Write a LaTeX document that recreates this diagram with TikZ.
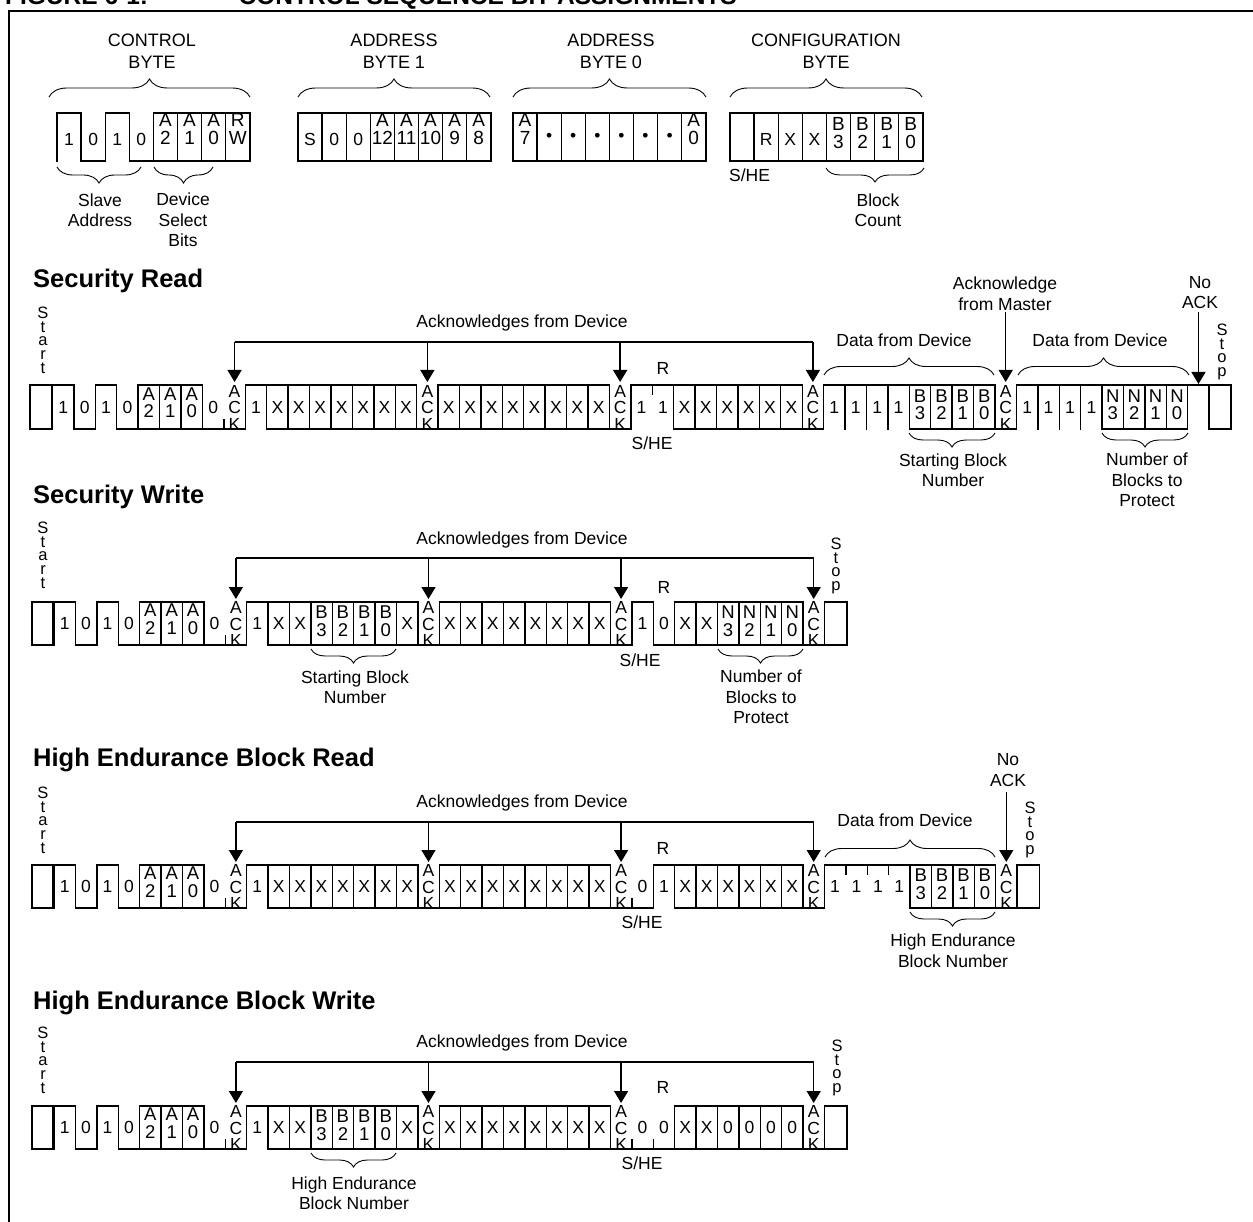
\documentclass[tikz,border=0pt]{standalone}
\usepackage{fontspec}
\setmainfont{Liberation Sans}
\usetikzlibrary{arrows.meta,decorations.pathreplacing}

\newcommand\bitlev[1]{\ifcase#1 0\or 1\or 2\or 1\fi}
\newcommand\bitstk[2]{{\fontsize{18.5}{16}\selectfont\begin{tabular}{@{}c@{}}#1\\#2\end{tabular}}}
\newcommand\topstk[2]{{\fontsize{19}{15}\selectfont\begin{tabular}{@{}c@{}}#1\\#2\end{tabular}}}
\newcommand\ACKs{{\fontsize{17.5}{14.5}\selectfont\begin{tabular}{@{}c@{}}A\\C\\K\end{tabular}}}

\newcommand\vfull[1]{\draw[wave] (#1,\Rt) -- (#1,\Rb);}
\newcommand\vtickT[1]{\draw[wave] (#1,\Rt) -- (#1,\Rt+9);}
\newcommand\vtickB[1]{\draw[wave] (#1,\Rb) -- (#1,\Rb-9);}
\newcommand\bnd[3]{%
  \ifnum#1<0 \vfull{#3}\else
  \ifnum#1=2 \vfull{#3}\else
  \ifnum#2=2 \vfull{#3}\else
  \ifnum\bitlev{#1}=\bitlev{#2}\relax
    \ifnum#2=0 \vtickB{#3}\else
    \ifnum#2=3 \vfull{#3}\else \vtickT{#3}\fi\fi
  \else \vfull{#3}\fi\fi\fi\fi}

\newcommand\setrow[4]{\def\Rx{#1}\def\Rw{#2}\def\Rt{#3}\def\Rb{#4}\pgfmathsetmacro\Rm{(#3+#4)/2}}

\newcommand\bitrow[2]{%
  \gdef\prevt{-1}%
  \foreach \ty/\lb/\dy [count=\i from 0] in {#2} {%
    \pgfmathsetmacro\xa{\Rx+\i*\Rw}%
    \pgfmathsetmacro\xb{\Rx+(\i+1)*\Rw}%
    \pgfmathsetmacro\xm{\Rx+(\i+0.5)*\Rw}%
    \ifnum\ty=0 \draw[wave] (\xa,\Rb) -- (\xb,\Rb);\fi
    \ifnum\ty=1 \draw[wave] (\xa,\Rt) -- (\xb,\Rt);\fi
    \ifnum\ty=3 \draw[wave] (\xa,\Rt) -- (\xb,\Rt);\fi
    \ifnum\ty=2 \draw[wave] (\xa,\Rt) -- (\xb,\Rt) (\xa,\Rb) -- (\xb,\Rb);\fi
    \bnd{\prevt}{\ty}{\xa}%
    \coordinate (#1c\i) at (\xm,\Rt);
    \node[bitlbl,yshift=\dy pt] (#1t\i) at (\xm,\Rm) {\lb};
    \xdef\prevt{\ty}%
    \xdef\lastx{\xb}%
  }%
  \draw[wave] (\lastx,\Rt) -- (\lastx,\Rb);
  \coordinate (#1end) at (\lastx,\Rt);
}

\begin{document}
\begin{tikzpicture}[x=1pt,y=-1pt,
  wave/.style={line width=1.4pt, line cap=rect},
  bitlbl/.style={inner sep=0pt, font=\fontsize{17.5}{15}\selectfont},
  lbl/.style={inner sep=0pt, align=center, font=\fontsize{17.5}{20.5}\selectfont},
  vstack/.style={inner sep=0pt, align=center, anchor=north, font=\fontsize{16.5}{13.6}\selectfont},
  ttl/.style={inner sep=0pt, anchor=west, font=\fontsize{25.5}{30}\selectfont\bfseries},
  brc/.style={decorate, line width=0.9pt},
  ln/.style={line width=1.3pt},
  ackarr/.style={line width=1.3pt, -{Triangle[width=14pt,length=12pt]}},
  box/.style={line width=1.4pt}]

\fill[white] (0,0) rectangle (1253,1222);
\useasboundingbox (0,0) rectangle (1253,1222);

% header and frame
\node[anchor=base west, inner sep=0pt, font=\fontsize{24.5}{28}\selectfont\bfseries] (hdr1) at (5,5) {FIGURE 6-1:};
\node[anchor=base east, inner sep=0pt, font=\fontsize{24.5}{28}\selectfont\bfseries] (hdr2) at (737,5) {CONTROL SEQUENCE BIT ASSIGNMENTS};
\draw[line width=2.6pt] (9,1240) -- (9,11) -- (1270,11);

% ================= top: byte definitions =================
\node[lbl, font=\fontsize{18}{22}\selectfont] (cbl) at (152,51) {CONTROL\\BYTE};
\node[lbl, font=\fontsize{18}{22}\selectfont] (a1l) at (394,51) {ADDRESS\\BYTE 1};
\node[lbl, font=\fontsize{18}{22}\selectfont] (a0l) at (611,51) {ADDRESS\\BYTE 0};
\node[lbl, font=\fontsize{18}{22}\selectfont] (cfl) at (826,51) {CONFIGURATION\\BYTE};
\draw[brc, decoration={brace, amplitude=18pt}] (49,97) -- (250,97);
\draw[brc, decoration={brace, amplitude=18pt}] (298,97) -- (490,97);
\draw[brc, decoration={brace, amplitude=18pt}] (513,97) -- (706,97);
\draw[brc, decoration={brace, amplitude=18pt}] (730,97) -- (922,97);

\setrow{57}{24.1}{113}{161}
\bitrow{cb}{1/1/-2, 0/0/-2, 1/1/-2, 0/0/-2, 2/{\topstk{A}{2}}/6, 2/{\topstk{A}{1}}/6, 2/{\topstk{A}{0}}/6, 2/{\topstk{R}{W}}/6}
\setrow{298}{24.1}{113}{161}
\bitrow{ab}{2/S/-2, 2/0/-2, 2/0/-2, 2/{\topstk{A}{12}}/6, 2/{\topstk{A}{11}}/6, 2/{\topstk{A}{10}}/6, 2/{\topstk{A}{9}}/6, 2/{\topstk{A}{8}}/6}
\setrow{513}{24.1}{113}{161}
\bitrow{az}{2/{\topstk{A}{7}}/6, 2/\textbullet/0, 2/\textbullet/0, 2/\textbullet/0, 2/\textbullet/0, 2/\textbullet/0, 2/\textbullet/0, 2/{\topstk{A}{0}}/6}
\setrow{730}{24.1}{113}{161}
\bitrow{cf}{2/{}/0, 2/R/-2, 2/X/-2, 2/X/-2, 2/{\topstk{B}{3}}/2, 2/{\topstk{B}{2}}/2, 2/{\topstk{B}{1}}/2, 2/{\topstk{B}{0}}/2}

\draw[brc, decoration={brace, mirror, amplitude=16pt}] (57,167) -- (141,167);
\draw[brc, decoration={brace, mirror, amplitude=16pt}] (154,167) -- (213,167);
\draw[brc, decoration={brace, mirror, amplitude=14pt}] (826,168) -- (924,168);
\node[lbl] (slv) at (100,210) {Slave\\Address};
\node[lbl] (dsb) at (183,220) {Device\\Select\\Bits};
\node[lbl, anchor=west] (cfshe) at (729,175) {S/HE};
\node[lbl] (bcn) at (878,210) {Block\\Count};

% ================= Security Read =================
\node[ttl] (srtt) at (33,281) {Security Read};
\node[vstack] (srst) at (43,307) {S\\t\\a\\r\\t};
\draw[box] (30,385) rectangle (51.5,429);
\setrow{52.5}{21.42}{385}{429}
\bitrow{sr}{1/1/0, 0/0/0, 1/1/0, 0/0/0, 2/{\bitstk{A}{2}}/2, 2/{\bitstk{A}{1}}/2, 2/{\bitstk{A}{0}}/2, 0/0/0, 0/\ACKs/-3,
 1/1/0, 2/X/0, 2/X/0, 2/X/0, 2/X/0, 2/X/0, 2/X/0, 2/X/0, 0/\ACKs/-3,
 2/X/0, 2/X/0, 2/X/0, 2/X/0, 2/X/0, 2/X/0, 2/X/0, 2/X/0, 0/\ACKs/-3,
 1/1/0, 1/1/0, 2/X/0, 2/X/0, 2/X/0, 2/X/0, 2/X/0, 2/X/0, 0/\ACKs/-3,
 1/1/0, 3/1/0, 3/1/0, 3/1/0, 2/{\bitstk{B}{3}}/0, 2/{\bitstk{B}{2}}/0, 2/{\bitstk{B}{1}}/0, 2/{\bitstk{B}{0}}/0, 0/\ACKs/-3,
 1/1/0, 3/1/0, 3/1/0, 3/1/0, 2/{\bitstk{N}{3}}/0, 2/{\bitstk{N}{2}}/0, 2/{\bitstk{N}{1}}/0, 2/{\bitstk{N}{0}}/0, 1/{}/0}
\draw[box] (srend) rectangle ++(22,44);
\node[vstack] (srsp) at (1222,324) {S\\t\\o\\p};
\node[lbl] (srack) at (522,323) {Acknowledges from Device};
\draw[ln] (src8 |- 0,342) -- (src35 |- 0,342);
\foreach \k in {8,17,26,35} \draw[ackarr] (src\k |- 0,342) -- ([yshift=3pt]src\k);
\node[lbl] (srR) at (663,368) {R};
\node[lbl] (srshe) at (652,443) {S/HE};
\node[lbl] (srd1) at (904,340) {Data from Device};
\draw[brc, decoration={brace, amplitude=17pt}] (824,375) -- (994,375);
\node[lbl] (srd2) at (1100,340) {Data from Device};
\draw[brc, decoration={brace, amplitude=17pt}] (1018,375) -- (1189,375);
\node[lbl] (srmst) at (1005,293.5) {Acknowledge\\from Master};
\draw[ackarr] (src44 |- 0,312) -- ([yshift=3pt]src44);
\node[lbl] (srnak) at (1200,292.5) {No\\ACK};
\draw[ackarr] (src53 |- 0,312) -- ([yshift=1pt]src53);
\draw[brc, decoration={brace, mirror, amplitude=14pt}] (909,433) -- (995,433);
\node[lbl] (srsbn) at (953,470) {Starting Block\\Number};
\draw[brc, decoration={brace, mirror, amplitude=14pt}] (1102,433) -- (1188,433);
\node[lbl] (srnbp) at (1147,480) {Number of\\Blocks to\\Protect};

% ================= Security Write =================
\node[ttl] (swtt) at (33,497) {Security Write};
\node[vstack] (swst) at (43,522) {S\\t\\a\\r\\t};
\draw[box] (32,602) rectangle (53,645);
\setrow{54}{21.4}{602}{645}
\bitrow{sw}{1/1/0, 0/0/0, 1/1/0, 0/0/0, 2/{\bitstk{A}{2}}/2, 2/{\bitstk{A}{1}}/2, 2/{\bitstk{A}{0}}/2, 0/0/0, 0/\ACKs/-3,
 1/1/0, 2/X/0, 2/X/0, 2/{\bitstk{B}{3}}/0, 2/{\bitstk{B}{2}}/0, 2/{\bitstk{B}{1}}/0, 2/{\bitstk{B}{0}}/0, 2/X/0, 0/\ACKs/-3,
 2/X/0, 2/X/0, 2/X/0, 2/X/0, 2/X/0, 2/X/0, 2/X/0, 2/X/0, 0/\ACKs/-3,
 1/1/0, 0/0/0, 2/X/0, 2/X/0, 2/{\bitstk{N}{3}}/0, 2/{\bitstk{N}{2}}/0, 2/{\bitstk{N}{1}}/0, 2/{\bitstk{N}{0}}/0, 0/\ACKs/-3}
\draw[box] (swend) rectangle ++(22.5,43);
\node[vstack] (swsp) at (836,538) {S\\t\\o\\p};
\node[lbl] (swack) at (522,540) {Acknowledges from Device};
\draw[ln] (swc8 |- 0,558) -- (swc35 |- 0,558);
\foreach \k in {8,17,26,35} \draw[ackarr] (swc\k |- 0,558) -- ([yshift=3pt]swc\k);
\node[lbl] (swR) at (664,587) {R};
\node[lbl] (swshe) at (640,660) {S/HE};
\draw[brc, decoration={brace, mirror, amplitude=14pt}] (311,649) -- (396,649);
\node[lbl] (swsbn) at (355,687) {Starting Block\\Number};
\draw[brc, decoration={brace, mirror, amplitude=14pt}] (718,649) -- (803,649);
\node[lbl] (swnbp) at (761,697) {Number of\\Blocks to\\Protect};

% ================= High Endurance Block Read =================
\node[ttl] (hrtt) at (33,760) {High Endurance Block Read};
\node[vstack] (hrst) at (43,787) {S\\t\\a\\r\\t};
\draw[box] (32,865) rectangle (53,908);
\setrow{54}{21.4}{865}{908}
\bitrow{hr}{1/1/0, 0/0/0, 1/1/0, 0/0/0, 2/{\bitstk{A}{2}}/2, 2/{\bitstk{A}{1}}/2, 2/{\bitstk{A}{0}}/2, 0/0/0, 0/\ACKs/-3,
 1/1/0, 2/X/0, 2/X/0, 2/X/0, 2/X/0, 2/X/0, 2/X/0, 2/X/0, 0/\ACKs/-3,
 2/X/0, 2/X/0, 2/X/0, 2/X/0, 2/X/0, 2/X/0, 2/X/0, 2/X/0, 0/\ACKs/-3,
 0/0/0, 1/1/0, 2/X/0, 2/X/0, 2/X/0, 2/X/0, 2/X/0, 2/X/0, 0/\ACKs/-3,
 1/1/0, 1/1/0, 1/1/0, 1/1/0, 2/{\bitstk{B}{3}}/0, 2/{\bitstk{B}{2}}/0, 2/{\bitstk{B}{1}}/0, 2/{\bitstk{B}{0}}/0, 0/\ACKs/-3}
\draw[box] (hrend) rectangle ++(22.5,43);
\node[vstack] (hrsp) at (1030,802) {S\\t\\o\\p};
\node[lbl] (hrack) at (522,803) {Acknowledges from Device};
\draw[ln] (hrc8 |- 0,822) -- (hrc35 |- 0,822);
\foreach \k in {8,17,26,35} \draw[ackarr] (hrc\k |- 0,822) -- ([yshift=3pt]hrc\k);
\node[lbl] (hrR) at (663,848) {R};
\node[lbl] (hrshe) at (642,922) {S/HE};
\node[lbl] (hrd1) at (905,820) {Data from Device};
\draw[brc, decoration={brace, amplitude=17pt}] (825,857) -- (995,857);
\node[lbl] (hrnak) at (1008,770) {No\\ACK};
\draw[ackarr] (hrc44 |- 0,792) -- ([yshift=3pt]hrc44);
\draw[brc, decoration={brace, mirror, amplitude=14pt}] (910,912) -- (995,912);
\node[lbl] (hrbn) at (953,950.5) {High Endurance\\Block Number};

% ================= High Endurance Block Write =================
\node[ttl] (hwtt) at (33,1003) {High Endurance Block Write};
\node[vstack] (hwst) at (43,1027) {S\\t\\a\\r\\t};
\draw[box] (32,1106) rectangle (53,1149);
\setrow{54}{21.4}{1106}{1149}
\bitrow{hw}{1/1/0, 0/0/0, 1/1/0, 0/0/0, 2/{\bitstk{A}{2}}/2, 2/{\bitstk{A}{1}}/2, 2/{\bitstk{A}{0}}/2, 0/0/0, 0/\ACKs/-3,
 1/1/0, 2/X/0, 2/X/0, 2/{\bitstk{B}{3}}/0, 2/{\bitstk{B}{2}}/0, 2/{\bitstk{B}{1}}/0, 2/{\bitstk{B}{0}}/0, 2/X/0, 0/\ACKs/-3,
 2/X/0, 2/X/0, 2/X/0, 2/X/0, 2/X/0, 2/X/0, 2/X/0, 2/X/0, 0/\ACKs/-3,
 0/0/0, 0/0/0, 2/X/0, 2/X/0, 2/0/0, 2/0/0, 2/0/0, 2/0/0, 0/\ACKs/-3}
\draw[box] (hwend) rectangle ++(22.5,43);
\node[vstack] (hwsp) at (837,1040) {S\\t\\o\\p};
\node[lbl] (hwack) at (522,1043) {Acknowledges from Device};
\draw[ln] (hwc8 |- 0,1062) -- (hwc35 |- 0,1062);
\foreach \k in {8,17,26,35} \draw[ackarr] (hwc\k |- 0,1062) -- ([yshift=3pt]hwc\k);
\node[lbl] (hwR) at (663,1087) {R};
\node[lbl] (hwshe) at (642,1163) {S/HE};
\draw[brc, decoration={brace, mirror, amplitude=14pt}] (311,1153) -- (396,1153);
\node[lbl] (hwbn) at (354,1193) {High Endurance\\Block Number};

\end{tikzpicture}
\end{document}
